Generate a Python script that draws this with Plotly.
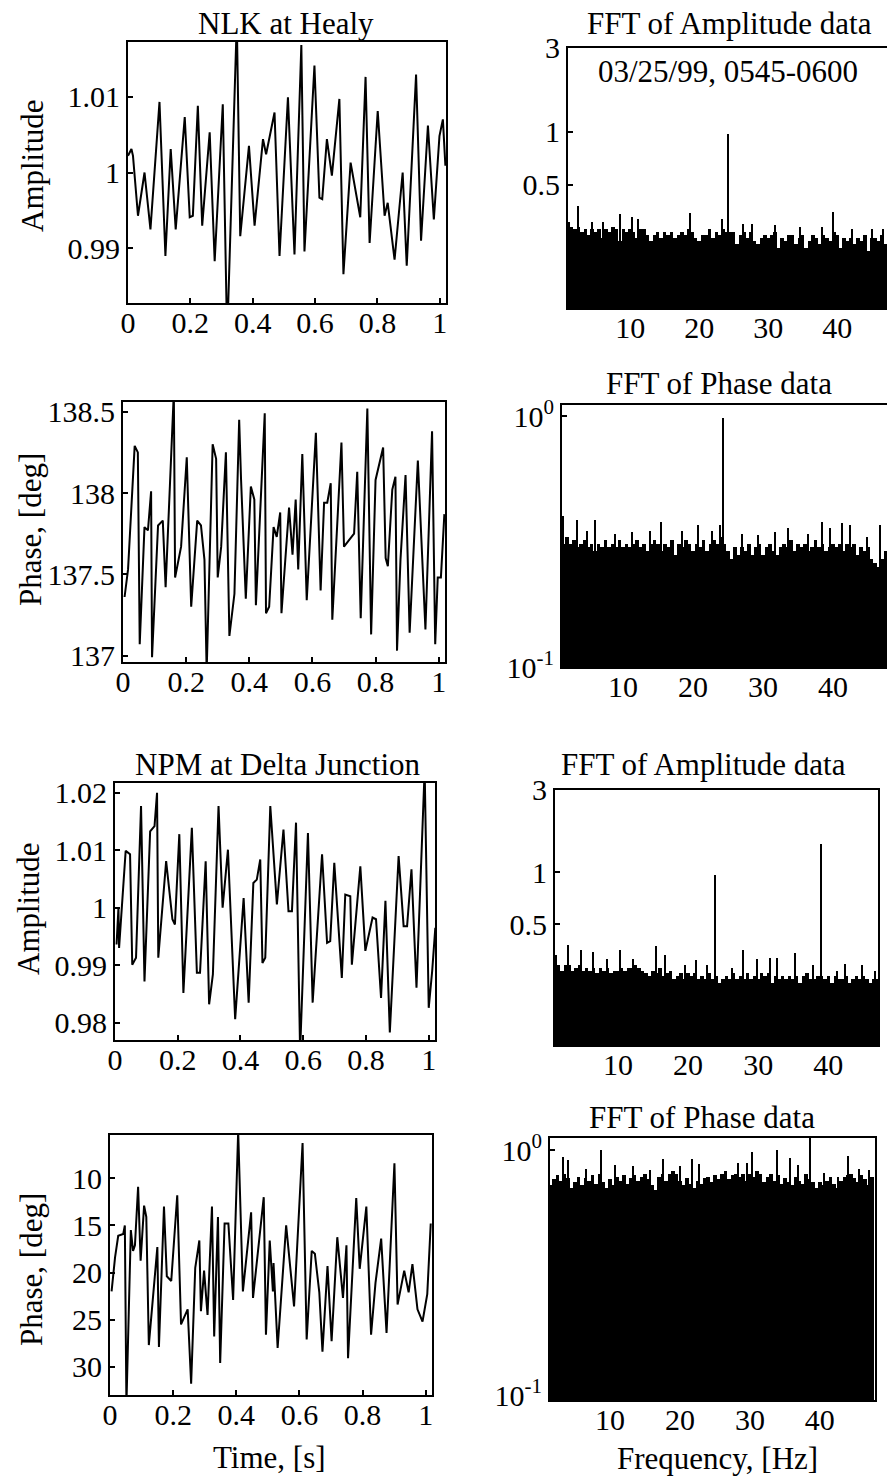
import plotly.graph_objects as go

# ---------------- DATA ----------------
# NLK at Healy - Amplitude vs time
nlk_amp_t = [0.0, 0.011, 0.016, 0.032, 0.053, 0.072, 0.101, 0.120, 0.137, 0.153,
             0.182, 0.198, 0.208, 0.224, 0.238, 0.262, 0.278, 0.304, 0.318, 0.349,
             0.360, 0.388, 0.406, 0.433, 0.443, 0.470, 0.486, 0.513, 0.534, 0.556,
             0.566, 0.598, 0.614, 0.623, 0.638, 0.654, 0.678, 0.691, 0.714, 0.745,
             0.762, 0.775, 0.801, 0.823, 0.833, 0.855, 0.881, 0.894, 0.924, 0.940,
             0.962, 0.981, 0.999, 1.010, 1.018]
nlk_amp = [1.0022, 1.0031, 1.0022, 0.9943, 1.0000, 0.9925, 1.0093, 0.9890, 1.0031, 0.9925,
           1.0073, 0.9941, 0.9943, 1.0088, 0.9930, 1.0053, 0.9883, 1.0090, 0.9780, 1.0200,
           0.9916, 1.0035, 0.9930, 1.0044, 1.0024, 1.0079, 0.9890, 1.0099, 0.9892, 1.0168,
           0.9896, 1.0141, 0.9967, 0.9965, 1.0044, 0.9996, 1.0097, 0.9866, 1.0013, 0.9941,
           1.0126, 0.9907, 1.0081, 0.9943, 0.9960, 0.9885, 1.0000, 0.9877, 1.0129, 0.9910,
           1.0062, 0.9938, 1.0048, 1.0070, 1.0009]

# NLK at Healy - Phase vs time
nlk_ph_t = [0.005, 0.016, 0.037, 0.047, 0.053, 0.068, 0.079, 0.089, 0.092, 0.102,
            0.111, 0.126, 0.135, 0.161, 0.165, 0.184, 0.202, 0.216, 0.235, 0.247,
            0.258, 0.265, 0.284, 0.295, 0.300, 0.311, 0.326, 0.337, 0.353, 0.368,
            0.374, 0.389, 0.405, 0.416, 0.421, 0.449, 0.453, 0.463, 0.477, 0.487,
            0.498, 0.502, 0.526, 0.537, 0.547, 0.555, 0.568, 0.582, 0.611, 0.626,
            0.637, 0.647, 0.658, 0.663, 0.692, 0.700, 0.716, 0.732, 0.742, 0.753,
            0.774, 0.786, 0.800, 0.824, 0.832, 0.839, 0.853, 0.863, 0.868, 0.879,
            0.895, 0.908, 0.934, 0.958, 0.979, 0.989, 0.997, 1.007, 1.018]
nlk_ph = [137.36, 137.53, 138.29, 138.25, 137.07, 137.79, 137.77, 138.01, 136.99, 137.47,
          137.80, 137.83, 137.42, 138.62, 137.48, 137.67, 138.22, 137.30, 137.83, 137.80,
          137.59, 136.90, 138.30, 138.21, 137.48, 137.67, 138.25, 137.12, 137.38, 138.45,
          138.08, 137.35, 138.04, 137.96, 137.31, 138.49, 137.26, 137.30, 137.79, 137.73,
          137.88, 137.26, 137.91, 137.62, 137.96, 137.53, 138.24, 137.34, 138.37, 137.40,
          137.94, 137.94, 138.06, 137.22, 138.31, 137.67, 137.71, 137.75, 138.13, 137.23,
          138.52, 137.13, 138.08, 138.28, 137.60, 137.55, 138.02, 138.10, 137.03, 137.59,
          138.11, 137.14, 138.20, 137.16, 138.38, 137.07, 137.48, 137.48, 137.87]

# NPM at Delta Junction - Amplitude vs time
npm_amp_t = [0.005, 0.011, 0.013, 0.019, 0.034, 0.048, 0.055, 0.067, 0.083, 0.094,
             0.112, 0.126, 0.134, 0.138, 0.163, 0.183, 0.191, 0.205, 0.218, 0.245,
             0.261, 0.271, 0.289, 0.300, 0.312, 0.330, 0.343, 0.360, 0.383, 0.410,
             0.426, 0.441, 0.452, 0.463, 0.470, 0.479, 0.495, 0.516, 0.537, 0.553,
             0.564, 0.577, 0.590, 0.615, 0.630, 0.660, 0.676, 0.686, 0.699, 0.723,
             0.734, 0.750, 0.755, 0.782, 0.798, 0.821, 0.832, 0.848, 0.862, 0.876,
             0.904, 0.920, 0.931, 0.945, 0.961, 0.987, 1.000, 1.011, 1.021]
npm_amp = [0.9936, 1.0000, 0.9930, 0.9980, 1.0099, 1.0093, 0.9901, 0.9913, 1.0177, 0.9872,
           1.0133, 1.0142, 1.0200, 0.9913, 1.0081, 0.9980, 0.9971, 1.0128, 0.9852, 1.0139,
           0.9887, 0.9887, 1.0081, 0.9832, 0.9884, 1.0177, 1.0000, 1.0101, 0.9806, 1.0017,
           0.9835, 1.0043, 1.0049, 1.0084, 0.9904, 0.9913, 1.0177, 1.0006, 1.0136, 0.9994,
           0.9994, 1.0148, 0.9750, 1.0130, 0.9835, 1.0093, 0.9939, 0.9942, 1.0078, 0.9878,
           1.0023, 1.0020, 0.9901, 1.0072, 0.9925, 0.9983, 0.9980, 0.9843, 1.0012, 0.9783,
           1.0090, 0.9968, 0.9968, 1.0067, 0.9861, 1.0240, 0.9826, 0.9890, 0.9965]

# NPM at Delta Junction - Phase vs time
npm_ph_t = [0.005, 0.016, 0.026, 0.042, 0.047, 0.052, 0.066, 0.073, 0.079, 0.089,
            0.097, 0.108, 0.115, 0.123, 0.150, 0.155, 0.171, 0.180, 0.194, 0.213,
            0.225, 0.246, 0.257, 0.270, 0.283, 0.288, 0.298, 0.309, 0.323, 0.330,
            0.342, 0.349, 0.363, 0.375, 0.390, 0.406, 0.421, 0.447, 0.453, 0.487,
            0.494, 0.506, 0.516, 0.518, 0.531, 0.558, 0.583, 0.610, 0.623, 0.639,
            0.649, 0.663, 0.673, 0.689, 0.702, 0.720, 0.738, 0.749, 0.754, 0.780,
            0.791, 0.812, 0.827, 0.841, 0.859, 0.876, 0.901, 0.911, 0.932, 0.946,
            0.958, 0.974, 0.990, 1.005, 1.016]
npm_ph = [22.0, 18.4, 16.1, 15.9, 15.0, 34.0, 15.5, 17.7, 17.1, 10.9,
          18.75, 12.9, 14.1, 27.7, 17.3, 27.9, 13.0, 20.4, 20.9, 11.8,
          25.5, 23.9, 31.8, 19.5, 16.6, 24.1, 19.8, 24.5, 13.0, 26.8,
          14.1, 29.6, 14.8, 14.8, 22.9, 5.0, 22.0, 13.6, 22.7, 12.0,
          26.6, 16.6, 22.0, 19.0, 28.0, 15.0, 23.6, 6.25, 27.1, 17.7,
          18.0, 22.1, 28.4, 19.3, 27.3, 16.25, 22.7, 17.1, 29.1, 12.1,
          19.6, 13.0, 26.6, 21.1, 16.4, 26.4, 8.4, 23.4, 19.8, 22.1,
          19.1, 23.9, 25.2, 22.3, 14.8]

# FFT frequency bins [Hz] (solid noise floor)
freq = [1.0, 1.5, 2.0, 2.5, 3.0, 3.5, 4.0, 4.5, 5.0, 5.5,
        6.0, 6.5, 7.0, 7.5, 8.0, 8.5, 9.0, 9.5, 10.0, 10.5,
        11.0, 11.5, 12.0, 12.5, 13.0, 13.5, 14.0, 14.5, 15.0, 15.5,
        16.0, 16.5, 17.0, 17.5, 18.0, 18.5, 19.0, 19.5, 20.0, 20.5,
        21.0, 21.5, 22.0, 22.5, 23.0, 23.5, 24.0, 24.5, 25.0, 25.5,
        26.0, 26.5, 27.0, 27.5, 28.0, 28.5, 29.0, 29.5, 30.0, 30.5,
        31.0, 31.5, 32.0, 32.5, 33.0, 33.5, 34.0, 34.5, 35.0, 35.5,
        36.0, 36.5, 37.0, 37.5, 38.0, 38.5, 39.0, 39.5, 40.0, 40.5,
        41.0, 41.5, 42.0, 42.5, 43.0, 43.5, 44.0, 44.5, 45.0, 45.5,
        46.0, 46.5, 47.0, 47.5]

nlk_amp_fft = [0.31, 0.29, 0.28, 0.29, 0.27, 0.28, 0.26, 0.28, 0.27, 0.28,
               0.25, 0.28, 0.27, 0.29, 0.28, 0.24, 0.28, 0.27, 0.28, 0.27,
               0.25, 0.28, 0.28, 0.26, 0.24, 0.26, 0.27, 0.25, 0.27, 0.26,
               0.27, 0.25, 0.26, 0.27, 0.26, 0.28, 0.27, 0.25, 0.24, 0.26,
               0.26, 0.28, 0.25, 0.27, 0.26, 0.28, 0.27, 0.27, 0.27, 0.23,
               0.26, 0.27, 0.25, 0.27, 0.24, 0.23, 0.25, 0.26, 0.25, 0.26,
               0.27, 0.22, 0.25, 0.24, 0.26, 0.26, 0.23, 0.25, 0.26, 0.22,
               0.24, 0.26, 0.25, 0.23, 0.26, 0.25, 0.24, 0.27, 0.26, 0.22,
               0.25, 0.24, 0.25, 0.23, 0.25, 0.24, 0.26, 0.21, 0.25, 0.25,
               0.24, 0.26, 0.23, 0.25]
nlk_amp_spike_f = [2.5, 4.5, 6.1, 8.6, 10.3, 11.2, 18.7, 23.3, 24.2, 26.4, 27.7,
                   31.0, 34.6, 37.8, 39.4, 42.2, 45.1, 46.7]
nlk_amp_spike = [0.38, 0.31, 0.31, 0.34, 0.33, 0.32, 0.345, 0.32, 0.97, 0.30, 0.30,
                 0.295, 0.29, 0.29, 0.35, 0.28, 0.28, 0.28]

nlk_ph_fft = [0.36, 0.31, 0.33, 0.31, 0.32, 0.30, 0.31, 0.32, 0.30, 0.31,
              0.29, 0.31, 0.30, 0.32, 0.30, 0.31, 0.30, 0.32, 0.30, 0.31,
              0.30, 0.31, 0.32, 0.30, 0.31, 0.29, 0.31, 0.32, 0.31, 0.29,
              0.31, 0.30, 0.32, 0.28, 0.31, 0.30, 0.32, 0.31, 0.29, 0.31,
              0.30, 0.32, 0.29, 0.31, 0.32, 0.31, 0.33, 0.31, 0.29, 0.27,
              0.30, 0.28, 0.30, 0.29, 0.31, 0.28, 0.30, 0.31, 0.28, 0.30,
              0.31, 0.29, 0.28, 0.30, 0.31, 0.30, 0.32, 0.29, 0.31, 0.30,
              0.31, 0.29, 0.30, 0.32, 0.30, 0.31, 0.29, 0.30, 0.31, 0.30,
              0.31, 0.29, 0.31, 0.30, 0.31, 0.28, 0.30, 0.29, 0.30, 0.27,
              0.26, 0.25, 0.27, 0.29]
nlk_ph_spike_f = [1.4, 3.4, 4.9, 6.1, 8.9, 11.3, 13.9, 15.4, 18.4, 20.7, 22.7, 23.9,
                  24.3, 27.0, 29.3, 31.7, 33.6, 36.4, 38.4, 39.6, 41.3, 42.4, 44.9, 46.7]
nlk_ph_spike = [0.40, 0.385, 0.35, 0.385, 0.34, 0.345, 0.35, 0.38, 0.35, 0.37, 0.35, 0.37,
                0.98, 0.34, 0.335, 0.345, 0.36, 0.34, 0.38, 0.36, 0.375, 0.37, 0.33, 0.37]

npm_amp_fft = [0.33, 0.29, 0.27, 0.29, 0.29, 0.27, 0.28, 0.29, 0.27, 0.28,
               0.27, 0.28, 0.26, 0.28, 0.27, 0.28, 0.26, 0.27, 0.27, 0.28,
               0.27, 0.28, 0.28, 0.29, 0.28, 0.27, 0.26, 0.25, 0.27, 0.26,
               0.28, 0.25, 0.26, 0.27, 0.24, 0.25, 0.26, 0.24, 0.26, 0.25,
               0.26, 0.24, 0.25, 0.24, 0.26, 0.24, 0.25, 0.23, 0.24, 0.25,
               0.24, 0.26, 0.24, 0.25, 0.24, 0.26, 0.24, 0.25, 0.24, 0.26,
               0.25, 0.26, 0.23, 0.25, 0.24, 0.25, 0.24, 0.25, 0.24, 0.25,
               0.23, 0.25, 0.26, 0.24, 0.24, 0.25, 0.25, 0.24, 0.25, 0.23,
               0.25, 0.24, 0.24, 0.25, 0.23, 0.24, 0.25, 0.24, 0.25, 0.24,
               0.23, 0.24, 0.24, 0.22]
npm_amp_spike_f = [2.9, 4.7, 6.4, 8.4, 10.3, 12.2, 15.4, 16.7, 19.6, 21.1, 22.7, 23.9,
                   26.3, 27.9, 29.9, 31.7, 32.7, 35.3, 37.9, 39.0, 41.3, 42.4, 44.9, 46.7]
npm_amp_spike = [0.38, 0.355, 0.345, 0.315, 0.355, 0.315, 0.375, 0.33, 0.29, 0.31, 0.29, 0.96,
                 0.28, 0.355, 0.315, 0.32, 0.32, 0.34, 0.29, 1.45, 0.27, 0.295, 0.29, 0.27]

npm_ph_fft = [0.78, 0.72, 0.76, 0.79, 0.75, 0.80, 0.77, 0.70, 0.74, 0.78,
              0.72, 0.77, 0.75, 0.79, 0.73, 0.80, 0.74, 0.70, 0.76, 0.72,
              0.78, 0.75, 0.79, 0.73, 0.77, 0.79, 0.75, 0.78, 0.80, 0.76,
              0.72, 0.69, 0.78, 0.80, 0.75, 0.80, 0.82, 0.80, 0.75, 0.72,
              0.77, 0.73, 0.70, 0.75, 0.73, 0.77, 0.78, 0.74, 0.79, 0.76,
              0.80, 0.82, 0.76, 0.79, 0.80, 0.78, 0.80, 0.75, 0.80, 0.78,
              0.82, 0.80, 0.74, 0.78, 0.80, 0.75, 0.79, 0.73, 0.77, 0.74,
              0.72, 0.78, 0.75, 0.73, 0.80, 0.76, 0.74, 0.70, 0.74, 0.72,
              0.75, 0.78, 0.73, 0.70, 0.75, 0.78, 0.79, 0.80, 0.77, 0.74,
              0.79, 0.76, 0.72, 0.78]
npm_ph_spike_f = [3.3, 4.0, 6.6, 8.7, 10.7, 13.3, 15.7, 17.6, 20.0, 21.7, 22.7, 25.7,
                  28.3, 29.6, 30.3, 33.9, 35.7, 36.9, 38.6, 40.7, 42.6, 44.0, 45.7, 47.1]
npm_ph_spike = [0.94, 0.91, 0.84, 1.0, 0.87, 0.865, 0.83, 0.92, 0.86, 0.92, 0.88, 0.75,
                0.89, 0.89, 0.98, 1.0, 0.93, 0.87, 1.2, 0.81, 0.78, 0.95, 0.84, 0.83]

time_ticks = [0, 0.2, 0.4, 0.6, 0.8, 1]
time_tick_text = ["0", "0.2", "0.4", "0.6", "0.8", "1"]
freq_ticks = [10, 20, 30, 40]
amp_fft_ticks = [0.5, 1, 3]
amp_fft_tick_text = ["0.5", "1", "3"]
ph_fft_ticks = [0.1, 1]
ph_fft_tick_text = ["10<sup>-1</sup>", "10<sup>0</sup>"]

# ---------------- FIGURE ----------------
W, H = 887, 1478
FONT = "Liberation Serif"
FS_TICK = 30
FS_TEXT = 31


def dx(a, b):
    return [a / W, min(b / W, 1.0)]


def dy(top, bottom):
    return [1 - bottom / H, 1 - top / H]


fig = go.Figure()
line = dict(color="black", width=2)
bar_marker = dict(color="black", line=dict(width=0))


def add_fft(fx, fy, sx, sy, axn):
    fig.add_trace(go.Bar(x=fx, y=fy, width=0.5, marker=bar_marker,
                         xaxis="x" + axn, yaxis="y" + axn))
    fig.add_trace(go.Bar(x=sx, y=sy, width=0.2, marker=bar_marker,
                         xaxis="x" + axn, yaxis="y" + axn))


fig.add_trace(go.Scatter(x=nlk_amp_t, y=nlk_amp, mode="lines", line=line, xaxis="x", yaxis="y"))
add_fft(freq, nlk_amp_fft, nlk_amp_spike_f, nlk_amp_spike, "2")
fig.add_trace(go.Scatter(x=nlk_ph_t, y=nlk_ph, mode="lines", line=line, xaxis="x3", yaxis="y3"))
add_fft(freq, nlk_ph_fft, nlk_ph_spike_f, nlk_ph_spike, "4")
fig.add_trace(go.Scatter(x=npm_amp_t, y=npm_amp, mode="lines", line=line, xaxis="x5", yaxis="y5"))
add_fft(freq, npm_amp_fft, npm_amp_spike_f, npm_amp_spike, "6")
fig.add_trace(go.Scatter(x=npm_ph_t, y=npm_ph, mode="lines", line=line, xaxis="x7", yaxis="y7"))
add_fft(freq, npm_ph_fft, npm_ph_spike_f, npm_ph_spike, "8")

# panel geometry in pixels: (left, right, top, bottom)
panels = {
    1: (128, 446, 42, 303),
    2: (568, 887, 48, 308),
    3: (123, 445, 402, 662),
    4: (562, 887, 405, 667),
    5: (115, 435, 783, 1040),
    6: (555, 878, 790, 1045),
    7: (110, 432, 1135, 1395),
    8: (550, 875, 1138, 1400),
}

base_axis = dict(showline=True, mirror=True, linecolor="black", linewidth=2,
                 ticks="inside", ticklen=5, tickwidth=1.5, tickcolor="black",
                 showgrid=False, zeroline=False, automargin=False,
                 tickfont=dict(family=FONT, size=FS_TICK, color="black"))

xranges = {1: [0, 1.02], 3: [0, 1.02], 5: [0, 1.02], 7: [0, 1.02],
           2: [1, 47.2], 4: [1.3, 47.7], 6: [1, 47.1], 8: [1.4, 47.9]}
yranges = {1: [0.9828, 1.0172], 3: [136.96, 138.56], 5: [0.977, 1.0217], 7: [33, 5.4],
           2: [-1, 0.477], 4: [-1, 0.045], 6: [-1, 0.477], 8: [-1.02, 0.05]}

layout = dict(width=W, height=H, margin=dict(l=0, r=0, t=0, b=0, pad=0, autoexpand=False),
              paper_bgcolor="white", plot_bgcolor="white", showlegend=False,
              barmode="overlay", bargap=0,
              font=dict(family=FONT, size=FS_TICK, color="black"))

for i, (l, r, t, b) in panels.items():
    xs = "" if i == 1 else str(i)
    xa = dict(base_axis, domain=dx(l, r), range=xranges[i], anchor="y" + xs,
              ticklabelstandoff=-8)
    ya = dict(base_axis, domain=dy(t, b), range=yranges[i], anchor="x" + xs)
    if i % 2 == 1:
        xa.update(tickmode="array", tickvals=time_ticks, ticktext=time_tick_text)
    else:
        xa.update(tickmode="array", tickvals=freq_ticks, ticktext=[str(v) for v in freq_ticks])
        ya.update(type="log")
        if i in (2, 6):
            ya.update(tickmode="array", tickvals=amp_fft_ticks, ticktext=amp_fft_tick_text)
        else:
            ya.update(tickmode="array", tickvals=ph_fft_ticks, ticktext=ph_fft_tick_text)
    if i == 1:
        ya.update(tickmode="array", tickvals=[0.99, 1, 1.01], ticktext=["0.99", "1", "1.01"])
    if i == 3:
        ya.update(tickmode="array", tickvals=[137, 137.5, 138, 138.5], ticktext=["137", "137.5", "138", "138.5"])
    if i == 5:
        ya.update(tickmode="array", tickvals=[0.98, 0.99, 1, 1.01, 1.02], ticktext=["0.98", "0.99", "1", "1.01", "1.02"])
    if i == 7:
        ya.update(tickmode="array", tickvals=[10, 15, 20, 25, 30], ticktext=["10", "15", "20", "25", "30"])
    layout["xaxis" + xs] = xa
    layout["yaxis" + xs] = ya

fig.update_layout(**layout)

texts = [
    ("NLK at Healy", 286, 23, 0),
    ("FFT of Amplitude data", 729, 23, 0),
    ("03/25/99, 0545-0600", 728, 71, 0),
    ("FFT of Phase data", 719, 383, 0),
    ("NPM at Delta Junction", 277, 765, 0),
    ("FFT of Amplitude data", 703, 765, 0),
    ("FFT of Phase data", 702, 1117, 0),
    ("Amplitude", 33, 166, -90),
    ("Phase, [deg]", 30, 530, -90),
    ("Amplitude", 28, 909, -90),
    ("Phase, [deg]", 31, 1270, -90),
    ("Time, [s]", 269, 1457, 0),
    ("Frequency, [Hz]", 717, 1458, 0),
]
for txt, x, y, ang in texts:
    fig.add_annotation(text=txt, x=x / W, y=1 - y / H, xref="paper", yref="paper",
                       showarrow=False, textangle=ang, xanchor="center", yanchor="middle",
                       font=dict(family=FONT, size=FS_TEXT, color="black"))

page_fix = "document.body.style.margin='0px';document.body.style.overflow='hidden';"

fig.write_html("out.html", config={"displayModeBar": False}, post_script=page_fix)
